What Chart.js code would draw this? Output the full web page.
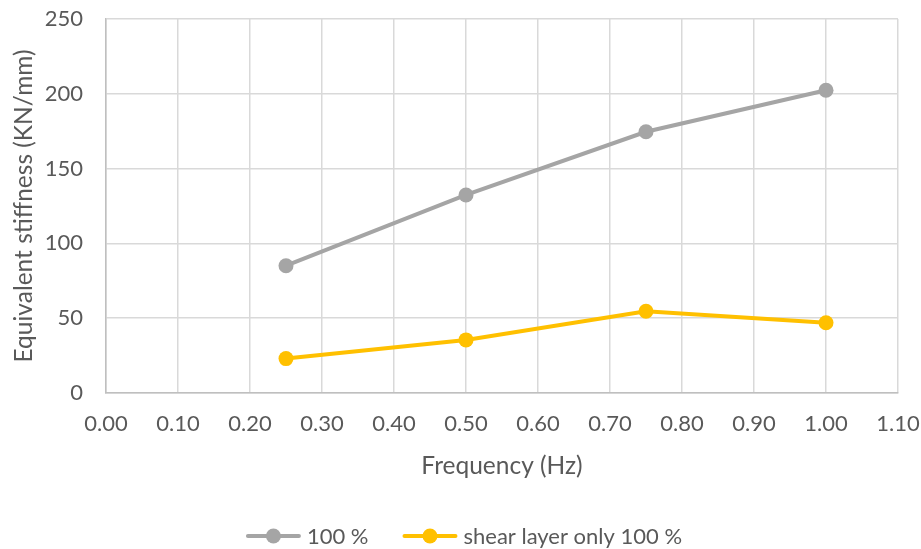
<!DOCTYPE html>
<html>
<head>
<meta charset="utf-8">
<script src="https://cdn.jsdelivr.net/npm/chart.js@4/dist/chart.umd.min.js"></script>
<style>
  html, body { margin: 0; padding: 0; background: #ffffff; overflow: hidden; }
  #wrap { width: 921px; height: 549px; }
</style>
</head>
<body>
<div id="wrap"><canvas id="c" width="921" height="549"></canvas></div>
<script>
// Loading frequency (Hz)
const frequency = [0.25, 0.50, 0.75, 1.00];
// Equivalent stiffness (KN/mm)
const stiffnessFull = [85.1, 132.4, 174.6, 202.4];
const stiffnessShearOnly = [23.0, 35.5, 54.6, 47.0];
const seriesNames = ['100 %', 'shear layer only 100 %'];
const yTicks = [0, 50, 100, 150, 200, 250];
const xTickStep = 0.1;

const GRAY = '#A5A5A5';
const GOLD = '#FFC000';
const TEXT = '#595959';
const FONT = 'Lato';
const FONT_SIZE = 22;
const TITLE_SIZE = 24.5;

const toXY = (xs, ys) => xs.map((x, i) => ({ x: x, y: ys[i] }));

// Bottom legend: line-with-marker swatch followed by the series name, centred as a row
const lineLegend = {
  id: 'lineLegend',
  afterDraw(chart, args, opts) {
    const ctx = chart.ctx;
    const swatch = 55, gap = 6, spacing = 34;
    ctx.save();
    ctx.font = FONT_SIZE + 'px ' + FONT;
    const items = chart.data.datasets.map(ds => ({
      text: ds.label, color: ds.borderColor,
      w: swatch + gap + ctx.measureText(ds.label).width
    }));
    const total = items.reduce((s, it) => s + it.w, 0) + spacing * (items.length - 1);
    let x = opts.centerX - total / 2;
    const y = opts.y;
    items.forEach(it => {
      ctx.strokeStyle = it.color;
      ctx.lineWidth = 4;
      ctx.lineCap = 'round';
      ctx.beginPath();
      ctx.moveTo(x + 2, y); ctx.lineTo(x + swatch - 2, y);
      ctx.stroke();
      ctx.fillStyle = it.color;
      ctx.beginPath();
      ctx.arc(x + swatch / 2, y, 7.5, 0, Math.PI * 2);
      ctx.fill();
      ctx.fillStyle = TEXT;
      ctx.textBaseline = 'middle';
      ctx.textAlign = 'left';
      ctx.fillText(it.text, x + swatch + gap, y + 1);
      x += it.w + spacing;
    });
    ctx.restore();
  }
};

new Chart(document.getElementById('c'), {
  type: 'line',
  data: {
    datasets: [
      {
        label: seriesNames[0],
        data: toXY(frequency, stiffnessFull),
        borderColor: GRAY, backgroundColor: GRAY,
        borderWidth: 4, pointRadius: 7.5, pointHoverRadius: 7.5,
        pointBackgroundColor: GRAY, pointBorderWidth: 0, tension: 0
      },
      {
        label: seriesNames[1],
        data: toXY(frequency, stiffnessShearOnly),
        borderColor: GOLD, backgroundColor: GOLD,
        borderWidth: 4, pointRadius: 7.5, pointHoverRadius: 7.5,
        pointBackgroundColor: GOLD, pointBorderWidth: 0, tension: 0
      }
    ]
  },
  options: {
    responsive: false,
    animation: false,
    layout: { padding: { left: 0, right: 23, top: 19, bottom: 0 } },
    plugins: {
      tooltip: { enabled: false },
      legend: { display: false },
      lineLegend: { centerX: 464, y: 536 }
    },
    scales: {
      x: {
        type: 'linear',
        min: 0, max: 1.1,
        afterFit: (s) => { s.height = 156; s.paddingLeft = 0; s.paddingRight = 0; },
        ticks: {
          stepSize: xTickStep,
          padding: 18,
          color: TEXT,
          font: { family: FONT, size: FONT_SIZE },
          callback: (v) => Number(v).toFixed(2)
        },
        grid: { color: '#D9D9D9', lineWidth: 1.5, drawTicks: false },
        border: { color: '#BFBFBF', width: 1.5 },
        title: {
          display: true, text: 'Frequency (Hz)', color: TEXT,
          font: { family: FONT, size: TITLE_SIZE },
          padding: { top: 0, bottom: 68 }
        }
      },
      y: {
        min: 0, max: 250,
        afterFit: (s) => { s.width = 106; s.paddingTop = 0; s.paddingBottom = 0; },
        afterBuildTicks: (s) => { s.ticks = yTicks.map(v => ({ value: v })); },
        ticks: {
          padding: 23,
          color: TEXT,
          font: { family: FONT, size: FONT_SIZE }
        },
        grid: { color: '#D9D9D9', lineWidth: 1.5, drawTicks: false },
        border: { color: '#BFBFBF', width: 1.5 },
        title: {
          display: true, text: 'Equivalent stiffness (KN/mm)', color: TEXT,
          font: { family: FONT, size: TITLE_SIZE },
          padding: { top: 9, bottom: 0 }
        }
      }
    }
  },
  plugins: [lineLegend]
});
</script>
</body>
</html>
